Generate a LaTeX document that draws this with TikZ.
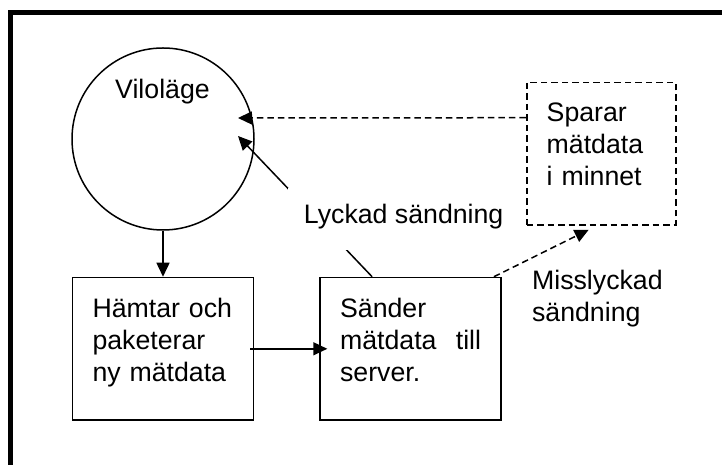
\documentclass[tikz,border=0pt]{standalone}
\usepackage{fontspec}
\setmainfont{Liberation Sans}
\usetikzlibrary{arrows.meta,positioning}
\tikzstyle{state}     = [circle, draw=black, line width=1.5pt, minimum size=182pt, inner sep=0pt]
\tikzstyle{stepbox}   = [rectangle, draw=black, line width=1.6pt, text width=141pt, align=left, inner sep=20pt, text height=19.5pt, text depth=83pt]
\tikzstyle{savebox}   = [stepbox, dash pattern=on 6.5pt off 4pt, text width=109pt]
\tikzstyle{edgetext}  = [fill=white, inner xsep=16pt, inner ysep=15pt, text height=20pt, text depth=12pt]
\tikzstyle{arrow}     = [line width=1.5pt, -{Triangle[length=14pt,width=13pt]}]
\tikzstyle{dasharrow} = [arrow, dash pattern=on 6.5pt off 4pt]

\begin{document}
\begin{tikzpicture}[x=1pt, y=1pt, font=\fontsize{26.7}{32}\selectfont]
            \useasboundingbox (0,0) rectangle (722,465);
            %Frame
            \draw [line width=5pt] (10.8,0) -- (10.8,452) -- (722,452);
            %Create nodes
            \node (vilo)      [state] at (163,326) {};
            \node (vilo_text) [anchor=base] at (162.5,366) {Viloläge};
            \node (hamtar)    [stepbox, below=46pt of vilo] {Hämtar och\\ paketerar\\ ny mätdata};
            \node (sander)    [stepbox, right=65pt of hamtar] {Sänder\\ mätdata\hspace{0pt plus 1filll}till\\ server.};
            \node (sparar)    [savebox, above right=51pt and 24pt of sander] {Sparar\\ mätdata\\ i minnet};
            \node (miss)      [anchor=base west, text width=160pt, align=left, inner sep=0pt] at ([shift={(30pt,-13pt)}]sander.north east) {Misslyckad\\ sändning};
            \coordinate (vilo_ok)   at ([shift={(75pt,3pt)}]vilo.center);
            \coordinate (vilo_back) at ([shift={(75pt,21pt)}]vilo.center);
            \coordinate (sparar_in) at ([shift={(-12.5pt,-4pt)}]sparar.south);
            %Connect nodes
            \draw [arrow]     (vilo.south) -- (hamtar.north);
            \draw [arrow]     ([xshift=-4pt]hamtar.east) -- ([xshift=8pt]sander.west);
            \draw [arrow]     ([xshift=-38.5pt]sander.north) -- node (lyckad) [edgetext, pos=0.633, anchor=north west] {Lyckad sändning} (vilo_ok);
            \draw [dasharrow] ([xshift=-8pt]sander.north east) -- (sparar_in);
            \draw [dasharrow] ([yshift=36pt]sparar.west) -- (vilo_back);
\end{tikzpicture}
\end{document}
